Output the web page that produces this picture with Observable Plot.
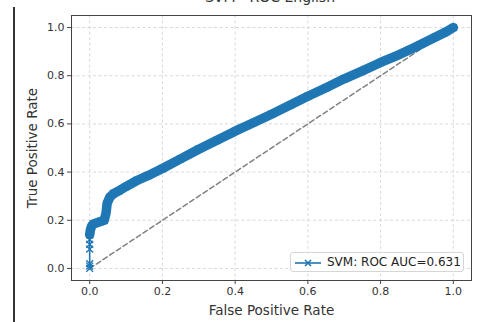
<!DOCTYPE html>
<html>
<head>
<meta charset="utf-8">
<script src="https://cdn.jsdelivr.net/npm/d3@7"></script>
<script src="https://cdn.jsdelivr.net/npm/@observablehq/plot@0.6"></script>
<style>
  html, body { margin: 0; padding: 0; background: #fff; overflow: hidden; }
  #wrap { position: relative; width: 478px; height: 322px; font-family: "DejaVu Sans", sans-serif; }
  #title { position: absolute; top: -11px; left: 0; width: 540px; text-align: center; font-size: 14px; line-height: 16px; color: #333; white-space: nowrap; }
  #edge { position: absolute; left: 13px; top: 7px; width: 2px; height: 315px; background: #333; }
  #legend { position: absolute; left: 290px; top: 252px; width: 174px; height: 20px; border: 1px solid #d6d6d6; border-radius: 3px; background: rgba(255,255,255,0.85); font-size: 12px; color: #222; box-sizing: border-box; }
  #legend svg { position: absolute; left: 2px; top: 2px; }
  #legend span { position: absolute; left: 36px; top: 2px; white-space: nowrap; }
</style>
</head>
<body>
<div id="wrap">
  <div id="title">SVM - ROC English</div>
  <div id="edge"></div>
  <div id="chart"></div>
  <div id="legend"><svg width="32" height="16"><line x1="2" y1="8" x2="28" y2="8" stroke="#1f77b4" stroke-width="1.6"/><path d="M12,5 L18,11 M18,5 L12,11" stroke="#1f77b4" stroke-width="1.6"/></svg><span>SVM: ROC AUC=0.631</span></div>
</div>
<script>
const fpr = [0, 0, 0, 0, 0, 0, 0, 0.002, 0.005, 0.01, 0.02, 0.03, 0.04, 0.045, 0.048, 0.055, 0.065, 0.08, 0.1, 0.13, 0.16, 0.2, 0.25, 0.3, 0.35, 0.4, 0.45, 0.5, 0.55, 0.6, 0.65, 0.7, 0.75, 0.8, 0.85, 0.9, 0.95, 0.98, 1];
const tpr = [0, 0.01, 0.02, 0.08, 0.1, 0.12, 0.14, 0.16, 0.175, 0.185, 0.19, 0.195, 0.2, 0.23, 0.27, 0.295, 0.31, 0.322, 0.34, 0.365, 0.385, 0.415, 0.455, 0.495, 0.532, 0.57, 0.605, 0.64, 0.677, 0.715, 0.75, 0.787, 0.82, 0.855, 0.887, 0.922, 0.96, 0.982, 1];
const ticks = [0, 0.2, 0.4, 0.6, 0.8, 1.0];
const diagonal = [0, 1];
const xLabel = "False Positive Rate";
const yLabel = "True Positive Rate";

const pts = fpr.map((x, i) => ({x, y: tpr[i]}));
const dense = pts.filter(d => d.y >= 0.13);
const diag = diagonal.map(v => ({x: v, y: v}));

const chart = Plot.plot({
  width: 478,
  height: 322,
  marginLeft: 71,
  marginRight: 7,
  marginTop: 15,
  marginBottom: 42,
  style: {fontFamily: "DejaVu Sans, sans-serif", fontSize: "11px", color: "#333", background: "transparent"},
  x: {domain: [-0.05, 1.05]},
  y: {domain: [-0.05, 1.05]},
  marks: [
    Plot.ruleX(ticks, {stroke: "#cfcfcf", strokeWidth: 0.8, strokeDasharray: "3,2.5"}),
    Plot.ruleY(ticks, {stroke: "#cfcfcf", strokeWidth: 0.8, strokeDasharray: "3,2.5"}),
    Plot.line(diag, {x: "x", y: "y", stroke: "#808080", strokeWidth: 1.5, strokeDasharray: "5,3"}),
    Plot.line(dense, {x: "x", y: "y", stroke: "#1f77b4", strokeWidth: 9.5, strokeLinecap: "round", strokeLinejoin: "round"}),
    Plot.line(pts, {x: "x", y: "y", stroke: "#1f77b4", strokeWidth: 1.6}),
    Plot.dot(pts, {x: "x", y: "y", symbol: "times", r: 3.2, stroke: "#1f77b4", strokeWidth: 1.4}),
    Plot.frame({stroke: "#444", strokeWidth: 1}),
    Plot.axisX(ticks, {tickFormat: d => d.toFixed(1), tickSize: 4, tickPadding: 3, stroke: "#444", label: xLabel, labelArrow: false, labelAnchor: "center", labelOffset: 34, fontSize: 11}),
    Plot.axisY(ticks, {tickFormat: d => d.toFixed(1), tickSize: 4, tickPadding: 3, stroke: "#444", label: yLabel, labelArrow: false, labelAnchor: "center", labelOffset: 44, fontSize: 11})
  ]
});
chart.querySelectorAll("[aria-label='x-axis label'] text, [aria-label='y-axis label'] text").forEach(t => {
  t.setAttribute("font-size", "13.5px");
  t.textContent = t.textContent.replace(/\s*[→↑←↓]\s*/g, "").trim();
});
document.getElementById("chart").appendChild(chart);
</script>
</body>
</html>
